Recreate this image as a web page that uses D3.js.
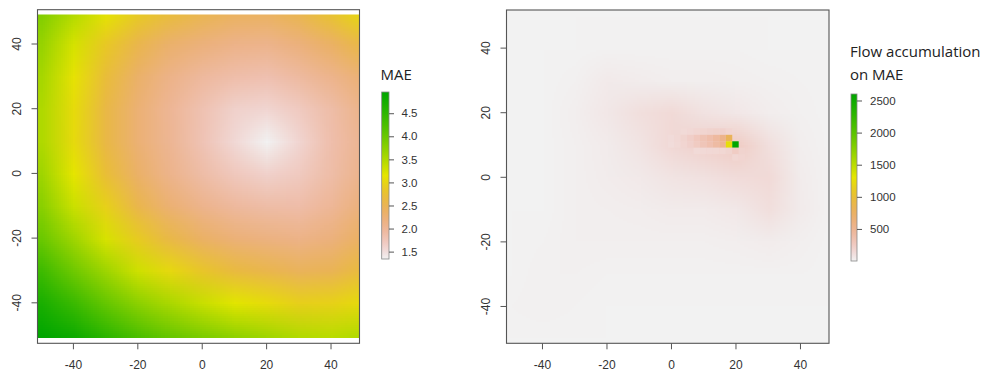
<!DOCTYPE html>
<html>
<head>
<meta charset="utf-8">
<script src="https://cdn.jsdelivr.net/npm/d3@7"></script>
<style>
  body { margin: 0; background: #fff; }
  svg text { font-family: "Liberation Sans", Arial, sans-serif; fill: #333; }
  .ttl { font-family: "Open Sans", sans-serif; font-size: 15px; fill: #222; }
</style>
</head>
<body>
<svg id="chart" width="984" height="374"></svg>
<script>
// grid nodes, every 10 units
const gridX = [-50, -40, -30, -20, -10, 0, 10, 20, 30, 40, 50];
const gridY = [50, 40, 30, 20, 10, 0, -10, -20, -30, -40, -50];

// MAE, one row per gridY, one value per gridX
const maeRows = [
  [3.83, 3.49, 3.16, 2.89, 2.70, 2.54, 2.43, 2.42, 2.55, 2.80, 3.07],
  [3.67, 3.25, 2.86, 2.55, 2.31, 2.20, 2.10, 2.08, 2.19, 2.37, 2.62],
  [3.56, 3.12, 2.70, 2.34, 2.10, 1.95, 1.86, 1.82, 1.93, 2.08, 2.27],
  [3.50, 3.06, 2.61, 2.26, 2.01, 1.80, 1.62, 1.58, 1.70, 1.88, 2.12],
  [3.50, 3.05, 2.61, 2.26, 2.02, 1.78, 1.55, 1.35, 1.58, 1.85, 2.06],
  [3.61, 3.15, 2.72, 2.35, 2.08, 1.88, 1.72, 1.62, 1.70, 1.88, 2.10],
  [3.76, 3.32, 2.95, 2.55, 2.26, 2.07, 1.95, 1.88, 1.87, 2.00, 2.22],
  [4.00, 3.61, 3.24, 2.89, 2.59, 2.37, 2.24, 2.17, 2.12, 2.20, 2.41],
  [4.36, 3.96, 3.62, 3.30, 3.03, 2.82, 2.65, 2.55, 2.45, 2.49, 2.69],
  [4.69, 4.39, 4.03, 3.74, 3.52, 3.33, 3.17, 3.06, 2.94, 2.96, 3.06],
  [4.95, 4.80, 4.51, 4.23, 4.01, 3.85, 3.71, 3.59, 3.47, 3.42, 3.48]
];

// faint background of the flow accumulation (right panel)
const flowRows = [
  [1, 1, 1, 1, 1, 1, 1, 1, 1, 1, 1],
  [1, 1, 3, 6, 6, 6, 5, 5, 4, 2, 1],
  [1, 1, 15, 45, 35, 25, 22, 18, 14, 6, 1],
  [1, 2, 22, 60, 110, 140, 90, 60, 30, 12, 1],
  [1, 3, 20, 40, 80, 150, 200, 240, 110, 22, 1],
  [1, 3, 20, 32, 50, 80, 95, 125, 140, 35, 1],
  [1, 3, 18, 25, 30, 38, 40, 55, 110, 40, 1],
  [1, 7, 18, 18, 18, 18, 18, 22, 35, 20, 1],
  [2, 14, 14, 9, 6, 5, 5, 5, 6, 6, 1],
  [6, 12, 7, 2, 2, 2, 2, 2, 2, 2, 1],
  [1, 1, 1, 1, 1, 1, 1, 1, 1, 1, 1]
];

// strong 2x2 cells around the sink: [x, y, accumulation]
const flowCells = [
  [4, 14, 140], [6, 14, 150], [8, 14, 165], [10, 14, 175], [12, 14, 185], [14, 14, 195], [16, 14, 200], [18, 14, 170],
  [0, 12, 130], [2, 12, 150], [4, 12, 180], [6, 12, 220], [8, 12, 270], [10, 12, 320], [12, 12, 370], [14, 12, 430], [16, 12, 540], [18, 12, 800],
  [0, 10, 125], [2, 10, 145], [4, 10, 170], [6, 10, 205], [8, 10, 250], [10, 10, 300], [12, 10, 350], [14, 10, 410], [16, 10, 500], [18, 10, 1250], [20, 10, 2601],
  [8, 8, 140], [10, 8, 145], [12, 8, 150], [14, 8, 155], [16, 8, 160], [18, 8, 180], [20, 8, 240], [22, 8, 185],
  [20, 6, 160], [22, 6, 170]
];

const maeRange = [1.34, 4.96];
const flowRange = [1, 2601];
const maeTicks = [1.5, 2.0, 2.5, 3.0, 3.5, 4.0, 4.5];
const flowTicks = [500, 1000, 1500, 2000, 2500];
const axisTicks = [-40, -20, 0, 20, 40];

// rev(terrain.colors): 0 -> #F2F2F2, 0.5 -> yellow, 1 -> #00A600
function hsv(h, s, v) {
  const c = v * s, hp = h / 60, x = c * (1 - Math.abs(hp % 2 - 1)), m = v - c;
  let r, g, b;
  if (hp < 1) [r, g, b] = [c, x, 0];
  else if (hp < 2) [r, g, b] = [x, c, 0];
  else [r, g, b] = [0, c, x];
  return d3.rgb((r + m) * 255, (g + m) * 255, (b + m) * 255);
}
function terrain(f) {
  f = Math.max(0, Math.min(1, f));
  if (f <= 0.5) { const t = f / 0.5; return hsv(60 * t, t, 0.95 - 0.05 * t); }
  const t = (f - 0.5) / 0.5;
  return hsv(60 + 60 * t, 1, 0.9 - 0.25 * t);
}
const maeF = d3.scaleLinear().domain(maeRange).range([0, 1]);
const flowF = d3.scaleLinear().domain(flowRange).range([0, 1]);
const maeColor = v => terrain(maeF(v));
const flowColor = v => terrain(flowF(v));

function rasterUrl(rows, color) {
  const c = document.createElement('canvas');
  c.width = gridX.length; c.height = gridY.length;
  const ctx = c.getContext('2d');
  const img = ctx.createImageData(c.width, c.height);
  rows.forEach((row, j) => row.forEach((v, i) => {
    const col = color(v), k = (j * c.width + i) * 4;
    img.data[k] = col.r; img.data[k + 1] = col.g; img.data[k + 2] = col.b; img.data[k + 3] = 255;
  }));
  ctx.putImageData(img, 0, 0);
  return c.toDataURL();
}

const svg = d3.select('#chart');
const defs = svg.append('defs');

function panel(opt) {
  const { x, y, frame, clip, rows, color, id } = opt;
  const g = svg.append('g');
  defs.append('clipPath').attr('id', id).append('rect')
    .attr('x', x(clip[0])).attr('y', y(clip[3]))
    .attr('width', x(clip[1]) - x(clip[0])).attr('height', y(clip[2]) - y(clip[3]));
  // nodes sit at pixel centres, so the image runs half a step past them
  g.append('image')
    .attr('href', rasterUrl(rows, color))
    .attr('x', x(-55)).attr('y', y(55))
    .attr('width', x(55) - x(-55)).attr('height', y(-55) - y(55))
    .attr('preserveAspectRatio', 'none')
    .attr('clip-path', `url(#${id})`);

  const bottom = y(frame[2]), left = x(frame[0]);
  const xAxis = g.append('g').attr('transform', `translate(0,${bottom})`)
    .call(d3.axisBottom(x).tickValues(axisTicks).tickFormat(d => String(d)).tickSize(6).tickPadding(11).tickSizeOuter(0));
  xAxis.select('.domain').remove();
  xAxis.selectAll('line').attr('stroke', '#555');
  xAxis.selectAll('text').style('font-size', '12px').attr('fill', '#333');

  const yAxis = g.append('g').attr('transform', `translate(${left},0)`)
    .call(d3.axisLeft(y).tickValues(axisTicks).tickFormat(d => String(d)).tickSize(6).tickSizeOuter(0));
  yAxis.select('.domain').remove();
  yAxis.selectAll('line').attr('stroke', '#555');
  yAxis.selectAll('text').attr('transform', 'rotate(-90)').attr('x', 0).attr('y', -16.5).attr('dy', 0)
    .attr('text-anchor', 'middle').style('font-size', '12px').attr('fill', '#333');

  g.append('rect').attr('x', left).attr('y', y(frame[3]))
    .attr('width', x(frame[1]) - left).attr('height', bottom - y(frame[3]))
    .attr('fill', 'none').attr('stroke', '#555').attr('stroke-width', 1.1);
  return g;
}

function legend(opt) {
  const { scale, x0, w, ticks, color, domain, id, fmt, pad } = opt;
  const grad = defs.append('linearGradient').attr('id', id)
    .attr('x1', 0).attr('y1', 1).attr('x2', 0).attr('y2', 0);
  d3.range(0, 1.0001, 0.02).forEach(t => {
    grad.append('stop').attr('offset', t).attr('stop-color', color(domain[0] + t * (domain[1] - domain[0])));
  });
  const g = svg.append('g');
  g.append('rect').attr('x', x0).attr('y', scale(domain[1])).attr('width', w)
    .attr('height', scale(domain[0]) - scale(domain[1]))
    .attr('fill', `url(#${id})`).attr('stroke', '#888').attr('stroke-width', 0.8);
  const ax = g.append('g').attr('transform', `translate(${x0 + w},0)`)
    .call(d3.axisRight(scale).tickValues(ticks).tickSize(5).tickPadding(pad).tickFormat(fmt));
  ax.select('.domain').remove();
  ax.selectAll('line').attr('stroke', '#555');
  ax.selectAll('text').style('font-size', '11.5px').attr('fill', '#333');
}

// ---- left: MAE surface ----
const xL = d3.scaleLinear().domain([-51, 49]).range([37.5, 359.5]);
const yL = d3.scaleLinear().domain([-51, 49]).range([337.9, 14.4]);
panel({ x: xL, y: yL, frame: [-51, 49, yL.invert(343.3), yL.invert(9.7)], clip: [-51, 49, -51, 49],
  rows: maeRows, color: maeColor, id: 'clipL' });

legend({ scale: d3.scaleLinear().domain(maeRange).range([259, 92]), x0: 381.7, w: 7.3, pad: 7.5,
  ticks: maeTicks, color: maeColor, domain: maeRange, id: 'gradL', fmt: d3.format('.1f') });
svg.append('text').attr('class', 'ttl').attr('x', 380.5).attr('y', 80).text('MAE');

// ---- right: flow accumulation ----
const xR = d3.scaleLinear().domain([-51, 49]).range([506.5, 829]);
const yR = d3.scaleLinear().domain([-51, 51]).range([341.5, 12.1]);
const frameR = [-51, 49, yR.invert(343.3), yR.invert(10)];
const gR = panel({ x: xR, y: yR, frame: frameR, clip: frameR, rows: flowRows, color: flowColor, id: 'clipR' });
gR.insert('g', 'g').attr('clip-path', 'url(#clipR)').selectAll('rect').data(flowCells).enter().append('rect')
  .attr('x', d => xR(d[0] - 1)).attr('y', d => yR(d[1] + 1))
  .attr('width', d => xR(d[0] + 1) - xR(d[0] - 1)).attr('height', d => yR(d[1] - 1) - yR(d[1] + 1))
  .attr('fill', d => flowColor(d[2]));

legend({ scale: d3.scaleLinear().domain(flowRange).range([261, 94]), x0: 851, w: 6, pad: 8,
  ticks: flowTicks, color: flowColor, domain: flowRange, id: 'gradR', fmt: d3.format('d') });
svg.append('text').attr('class', 'ttl').attr('x', 850).attr('y', 56.5).text('Flow accumulation');
svg.append('text').attr('class', 'ttl').attr('x', 850).attr('y', 80).text('on MAE');
</script>
</body>
</html>
